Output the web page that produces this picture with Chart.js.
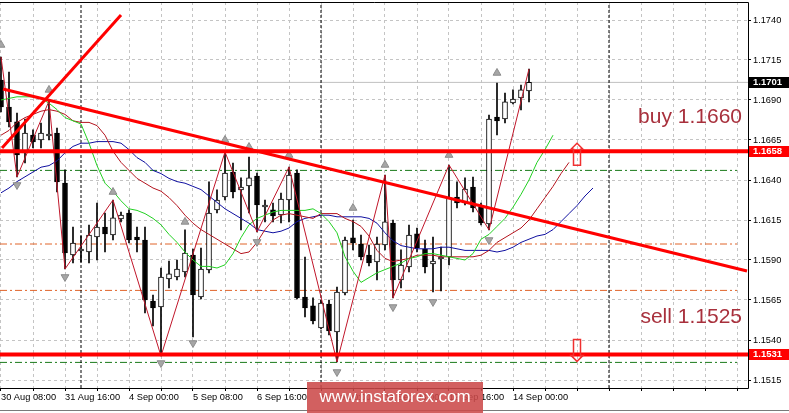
<!DOCTYPE html>
<html><head><meta charset="utf-8">
<script src="https://cdn.jsdelivr.net/npm/chart.js@4/dist/chart.umd.min.js"></script>
<style>html,body{margin:0;padding:0;background:#fff;overflow:hidden}#wrap{width:789px;height:413px;position:relative}</style>
</head><body><div id="wrap"><canvas id="c" width="789" height="413"></canvas></div>
<script>
// ---- time axis (H4 bars, index 0 = 30 Aug 08:00) ----
const labelBars  = [0, 8, 16, 24, 32, 40, 48, 56, 64];
const labelTexts = ['30 Aug 08:00','31 Aug 16:00','4 Sep 00:00','5 Sep 08:00','6 Sep 16:00','8 Sep 00:00','11 Sep 08:00','12 Sep 16:00','14 Sep 00:00'];
const separatorBars = [10, 40, 76];
const yTickValues = [1.1515,1.1540,1.1565,1.1590,1.1615,1.1640,1.1665,1.1690,1.1715,1.1740];

// ---- EURUSD H4 candles ----
const opens = [1.17025,1.16856,1.16763,1.16569,1.16681,1.1665,1.16675,1.16694,1.16381,1.15931,
1.15956,1.1595,1.16044,1.16106,1.16056,1.16156,1.16194,1.16044,1.16025,1.15644,
1.15606,1.15781,1.15794,1.15825,1.15931,1.15669,1.15838,1.16213,1.16294,1.1645,
1.16338,1.16363,1.16425,1.16231,1.16213,1.16181,1.16275,1.16444,1.15669,1.15613,
1.15475,1.15625,1.1545,1.15694,1.16038,1.16,1.15931,1.15888,1.15994,1.16131,
1.15775,1.15856,1.16063,1.15969,1.15875,1.15906,1.15919,1.16294,1.16256,1.16356,
1.16231,1.16125,1.16794,1.16781,1.16881,1.16913,1.16956];
const highs = [1.17169,1.17075,1.16819,1.16781,1.16713,1.16756,1.16894,1.16725,1.16463,1.16106,
1.1605,1.16119,1.16256,1.16194,1.16275,1.162,1.16213,1.16106,1.16106,1.15681,
1.1585,1.15894,1.159,1.16088,1.15969,1.15975,1.16388,1.16338,1.16575,1.16506,
1.16413,1.16544,1.16444,1.16275,1.16256,1.16319,1.16481,1.16463,1.15919,1.15663,
1.1565,1.1565,1.15731,1.16044,1.1615,1.16056,1.15994,1.16044,1.16431,1.1615,
1.15963,1.16119,1.161,1.16025,1.16044,1.15981,1.16494,1.16388,1.16413,1.16419,
1.16256,1.16806,1.17006,1.16944,1.16963,1.16994,1.17094];
const lows = [1.16825,1.16731,1.16419,1.16506,1.166,1.166,1.1665,1.16325,1.15844,1.15881,
1.15888,1.15881,1.159,1.1595,1.16025,1.16138,1.16006,1.1595,1.15569,1.15488,
1.153,1.15725,1.15775,1.15794,1.15419,1.15656,1.15819,1.16194,1.16275,1.16288,
1.16088,1.16194,1.16075,1.16138,1.16138,1.16131,1.16138,1.15656,1.15544,1.155,
1.15469,1.15431,1.15263,1.15681,1.15963,1.159,1.15863,1.15775,1.15963,1.15663,
1.15725,1.15825,1.1595,1.15819,1.157,1.15706,1.15869,1.16225,1.16244,1.162,
1.16119,1.16088,1.16681,1.16756,1.16875,1.16838,1.16888];
const closes = [1.16856,1.16763,1.16556,1.16694,1.16638,1.16694,1.16681,1.16388,1.15944,1.16006,
1.15963,1.16056,1.16106,1.16063,1.16163,1.16181,1.16025,1.16025,1.1565,1.156,
1.15794,1.15813,1.15844,1.15944,1.15681,1.15844,1.16194,1.16275,1.16444,1.16325,
1.16356,1.16413,1.16244,1.16238,1.16175,1.16281,1.16431,1.15663,1.156,1.15519,
1.15631,1.15456,1.157,1.16025,1.16006,1.15919,1.15881,1.16,1.16138,1.15775,
1.15869,1.16056,1.15975,1.15856,1.15894,1.15913,1.16288,1.16256,1.16344,1.16225,
1.16131,1.16781,1.16769,1.16888,1.16906,1.16963,1.1701];

// ---- Alligator lines (shifted forward) ----
const lipsGreen = [1.1690,1.1691,1.1692,1.1692,1.1692,1.1691,1.1688,1.1684,1.1679,1.1677,
1.1675,1.1663,1.1649,1.1638,1.1633,1.1627,1.1622,1.1621,1.1619,1.1616,
1.1612,1.1606,1.1601,1.1595,1.1590,1.1586,1.1586,1.1585,1.1587,1.1594,
1.1604,1.1612,1.1616,1.1618,1.1620,1.1621,1.1621,1.1621,1.1621,1.1622,
1.1619,1.1614,1.1607,1.1592,1.1583,1.1576,1.1579,1.1582,1.1584,1.1586,
1.1588,1.1591,1.1592,1.1594,1.1594,1.1593,1.1592,1.1591,1.1590,1.1594,
1.1603,1.1606,1.1611,1.1616,1.1623,1.1631,1.1640,1.1651,1.1659,1.1668];
const teethRed = [1.1668,1.1671,1.1676,1.1679,1.1681,1.1683,1.1684,1.1683,1.1681,1.1677,
1.1676,1.1676,1.1674,1.1668,1.1658,1.1651,1.1646,1.1641,1.1638,1.1635,
1.1633,1.1629,1.1624,1.1618,1.1613,1.1609,1.1606,1.1603,1.1600,1.1597,
1.1594,1.1595,1.1601,1.1609,1.1615,1.1618,1.1619,1.1618,1.1617,1.1616,
1.1619,1.1619,1.1619,1.1616,1.1614,1.1611,1.1605,1.1596,1.1591,1.1589,
1.1590,1.1591,1.1593,1.1593,1.1593,1.1592,1.1592,1.1592,1.1592,1.1592,
1.1593,1.1596,1.1601,1.1604,1.1607,1.1610,1.1615,1.1622,1.1629,1.1636,
1.1644,1.1651];
const jawBlue = [1.1632,1.1635,1.1639,1.1642,1.1645,1.1648,1.1649,1.1652,1.1657,1.1661,
1.1663,1.1663,1.1664,1.1664,1.1664,1.1663,1.1659,1.1654,1.1651,1.1646,
1.1644,1.1641,1.1639,1.1638,1.1636,1.1634,1.1630,1.1626,1.1622,1.1619,
1.1616,1.1613,1.1609,1.1608,1.1607,1.1608,1.1610,1.1614,1.1616,1.1617,
1.1618,1.1618,1.1617,1.1617,1.1617,1.1617,1.1616,1.1613,1.1607,1.1602,
1.1599,1.1598,1.1597,1.1597,1.1597,1.1598,1.1598,1.1597,1.1596,1.1596,
1.1596,1.1596,1.1595,1.1596,1.1598,1.1601,1.1603,1.1605,1.1606,1.1609,
1.1614,1.1619,1.1624,1.1630,1.1635];

// ---- ZigZag pivots and fractals ----
const zigzagBars  = [0,2,6,8,14,20,28,32,36,42,48,49,56,61,66];
const zigzagKinds = ['H','L','H','L','H','L','H','L','H','L','H','L','H','L','H'];
const fractalUpBars    = [0,6,14,23,28,31,36,44,48,56,62];
const fractalUpPrices  = [1.17244,1.16963,1.16325,1.16138,1.1665,1.16606,1.16556,1.16225,1.16494,1.16556,1.17069];
const fractalDnBars    = [2,8,20,24,32,42,49,54,61];
const fractalDnPrices  = [1.16369,1.15794,1.15256,1.15381,1.16013,1.152,1.15606,1.15638,1.16025];

// ---- levels and trend lines ----
const buyLevel = 1.1658, sellLevel = 1.1531, lastPrice = 1.1701;
const greenDashLevels  = [1.1646, 1.1526];
const orangeDashLevels = [1.1600, 1.1571];
const dashLevelEndBar  = 92;
const trendDownBars = [0.25, 93.25], trendDownPrices = [1.16969, 1.15831];
const trendUpBars   = [0.125, 15],   trendUpPrices   = [1.1660, 1.17431];
const signalBar = 72;
const buyText = 'buy 1.1660', sellText = 'sell 1.1525';
const buyTextPrice = 1.16756, sellTextPrice = 1.15506;

const X_MIN = -0.125, X_MAX = 93.375, Y_MIN = 1.1510, Y_MAX = 1.175125;
const FONT = "'Liberation Sans', Arial, sans-serif";

const idx = opens.map((_, i) => i);
const bull = idx.map(i => closes[i] >= opens[i]);
const pts = (arr) => arr.map((v, i) => ({x: i, y: v}));
const hline = (price, x0, x1) => [{x: x0, y: price}, {x: x1, y: price}];
const lineDs = (data, color, width, order, dash) => ({type: 'line', data, borderColor: color, borderWidth: width, borderDash: dash || [], pointRadius: 0, tension: 0, fill: false, order});

const datasets = [];
greenDashLevels.forEach(p => datasets.push(lineDs(hline(p, X_MIN, dashLevelEndBar), '#1a7a1a', 1, 40, [7, 3, 2, 3])));
orangeDashLevels.forEach(p => datasets.push(lineDs(hline(p, X_MIN, dashLevelEndBar), '#e0642a', 1, 40, [7, 3, 2, 3])));
datasets.push(lineDs(hline(lastPrice, X_MIN, X_MAX), '#c0c0c0', 1, 39));
separatorBars.forEach(b => datasets.push(lineDs([{x: b, y: Y_MIN}, {x: b, y: Y_MAX}], '#000', 1, 38, [3, 2])));
datasets.push({type: 'bar', data: idx.map(i => ({x: i, y: [lows[i], highs[i]]})), backgroundColor: '#000', borderWidth: 0, barThickness: 1, grouped: false, order: 31});
datasets.push({type: 'bar', data: idx.map(i => ({x: i, y: [opens[i], closes[i]]})), backgroundColor: bull.map(b => b ? '#fff' : '#000'), borderColor: '#000', borderWidth: 1, borderSkipped: false, barThickness: 5, minBarLength: 2, grouped: false, order: 30});
datasets.push(lineDs(pts(jawBlue), '#1010a0', 1, 12));
datasets.push(lineDs(pts(teethRed), '#b4141e', 1, 11));
datasets.push(lineDs(pts(lipsGreen), '#22d022', 1, 10));
datasets.push(lineDs(zigzagBars.map((b, k) => ({x: b, y: zigzagKinds[k] === 'H' ? highs[b] : lows[b]})), '#c0162a', 1, 8));
const fr = (bars, prices, rot) => ({type: 'line', showLine: false, data: bars.map((b, k) => ({x: b, y: prices[k]})), pointStyle: 'triangle', pointRotation: rot, pointRadius: 4.5, pointBackgroundColor: '#a6a6a6', pointBorderColor: '#8c8c8c', pointBorderWidth: 1, order: 7});
datasets.push(fr(fractalUpBars, fractalUpPrices, 0));
datasets.push(fr(fractalDnBars, fractalDnPrices, 180));
datasets.push(lineDs(hline(buyLevel, X_MIN, X_MAX), '#ff0000', 4, 5));
datasets.push(lineDs(hline(sellLevel, X_MIN, X_MAX), '#ff0000', 4, 5));
datasets.push(lineDs(trendDownBars.map((b, k) => ({x: b, y: trendDownPrices[k]})), '#ff0000', 3, 4));
datasets.push(lineDs(trendUpBars.map((b, k) => ({x: b, y: trendUpPrices[k]})), '#ff0000', 3, 4));

const overlay = {
  id: 'overlay',
  afterDraw(chart) {
    const {ctx, chartArea: a, scales: {x, y}} = chart;
    ctx.save();
    ctx.strokeStyle = '#000'; ctx.lineWidth = 1; ctx.setLineDash([]);
    ctx.beginPath();
    ctx.moveTo(a.left, a.top + 0.5); ctx.lineTo(a.right + 0.5, a.top + 0.5);
    ctx.lineTo(a.right + 0.5, a.bottom + 0.5); ctx.lineTo(a.left, a.bottom + 0.5);
    ctx.stroke();
    ctx.strokeStyle = '#7a7a7a';
    ctx.beginPath(); ctx.moveTo(0, 410.5); ctx.lineTo(chart.width, 410.5); ctx.stroke();
    const tag = (p, bg) => {
      const py = Math.round(y.getPixelForValue(p));
      ctx.fillStyle = bg; ctx.fillRect(a.right + 1, py - 5, chart.width - a.right - 1, 11);
      ctx.fillStyle = '#fff'; ctx.font = 'bold 9.5px ' + FONT; ctx.textAlign = 'left'; ctx.textBaseline = 'middle';
      ctx.fillText(p.toFixed(4), a.right + 5, py + 0.5);
    };
    tag(lastPrice, '#000'); tag(buyLevel, '#ff0000'); tag(sellLevel, '#ff0000');
    const ax = x.getPixelForValue(signalBar);
    ctx.strokeStyle = '#f03030'; ctx.lineWidth = 1.5;
    let py = y.getPixelForValue(buyLevel);
    ctx.beginPath();
    ctx.moveTo(ax, py - 8); ctx.lineTo(ax + 6, py - 2); ctx.lineTo(ax + 3.5, py - 2); ctx.lineTo(ax + 3.5, py + 14);
    ctx.lineTo(ax - 3.5, py + 14); ctx.lineTo(ax - 3.5, py - 2); ctx.lineTo(ax - 6, py - 2); ctx.closePath(); ctx.stroke();
    py = y.getPixelForValue(sellLevel);
    ctx.beginPath();
    ctx.moveTo(ax, py + 7); ctx.lineTo(ax + 6, py + 1); ctx.lineTo(ax + 3.5, py + 1); ctx.lineTo(ax + 3.5, py - 15);
    ctx.lineTo(ax - 3.5, py - 15); ctx.lineTo(ax - 3.5, py + 1); ctx.lineTo(ax - 6, py + 1); ctx.closePath(); ctx.stroke();
    ctx.fillStyle = '#a8303c'; ctx.font = '21px ' + FONT; ctx.textAlign = 'right'; ctx.textBaseline = 'alphabetic';
    ctx.fillText(buyText, a.right - 6, y.getPixelForValue(buyTextPrice));
    ctx.fillText(sellText, a.right - 6, y.getPixelForValue(sellTextPrice));
    ctx.fillStyle = 'rgba(204,74,74,0.88)';
    ctx.fillRect(307, 382, 176, chart.height - 382);
    ctx.fillStyle = '#fff'; ctx.font = '17px ' + FONT; ctx.textAlign = 'center'; ctx.textBaseline = 'middle';
    ctx.fillText('www.instaforex.com', 395, 397);
    ctx.restore();
  }
};

new Chart(document.getElementById('c'), {
  type: 'bar',
  data: {datasets},
  plugins: [overlay],
  options: {
    responsive: false, animation: false, devicePixelRatio: 1,
    layout: {autoPadding: false, padding: {top: 2, left: 0, right: 0, bottom: 0}},
    plugins: {legend: {display: false}, tooltip: {enabled: false}},
    scales: {
      x: {
        type: 'linear', min: X_MIN, max: X_MAX, offset: false,
        grid: {offset: false, color: '#c4c4c4', lineWidth: 1, drawTicks: true, tickLength: 3, tickColor: '#000', tickBorderDash: []},
        border: {display: false, dash: [3, 3]},
        afterBuildTicks: s => { const t = []; for (let v = 0; v <= 92; v += 4) t.push({value: v}); s.ticks = t; },
        afterFit: s => { s.height = 25; s.paddingLeft = 0; s.paddingRight = 0; },
        ticks: {autoSkip: false, maxRotation: 0, minRotation: 0, align: 'start', padding: 1, color: '#000',
          font: {family: FONT, size: 9.25},
          callback: v => { const k = labelBars.indexOf(v); return k >= 0 ? labelTexts[k] : ''; }}
      },
      y: {
        type: 'linear', position: 'right', min: Y_MIN, max: Y_MAX,
        grid: {color: '#c4c4c4', lineWidth: 1, drawTicks: true, tickLength: 3, tickColor: '#000', tickBorderDash: []},
        border: {display: false, dash: [3, 3]},
        afterBuildTicks: s => { s.ticks = yTickValues.map(v => ({value: v})); },
        afterFit: s => { s.width = 41; s.paddingTop = 0; s.paddingBottom = 0; },
        ticks: {padding: 2, color: '#000', font: {family: FONT, size: 9.25}, callback: v => v.toFixed(4)}
      }
    }
  }
});
</script></body></html>
